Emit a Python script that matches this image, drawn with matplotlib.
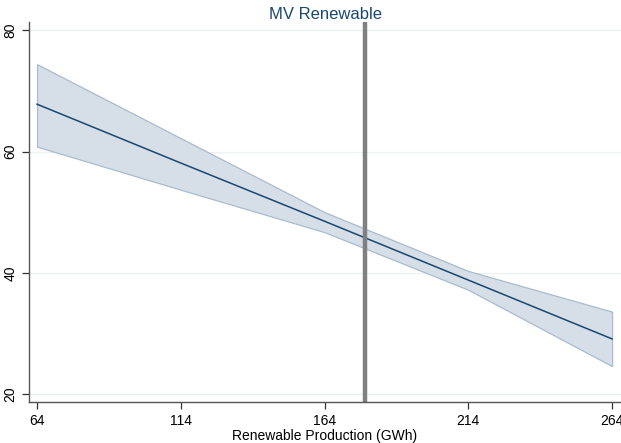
import numpy as np
import matplotlib.pyplot as plt

plt.rcParams['font.family'] = ['Liberation Sans', 'DejaVu Sans']

# predicted margins over renewable production
prod = [64, 114, 164, 214, 264]
margin = [67.8, 58.1, 48.5, 38.8, 29.1]
ci_low = [60.8, 53.7, 46.7, 37.2, 24.6]
ci_high = [74.4, 62.2, 50.0, 40.3, 33.6]
mean_prod = 178.1

navy = '#1a476f'

fig = plt.figure(figsize=(6.21, 4.43), dpi=100)
ax = fig.add_axes([0.0467, 0.0926, 0.9533, 0.857])

ax.fill_between(prod, ci_low, ci_high, facecolor='#d6dee8', edgecolor='#a9bccd', linewidth=0.9)
ax.plot(prod, margin, color=navy, linewidth=1.1)
ax.axvline(mean_prod, color='#808080', linewidth=3.2)

ax.set_xlim(61.2, 267.1)
ax.set_ylim(18.7, 81.3)
ax.set_xticks(prod)
ax.set_yticks([20, 40, 60, 80])
for t in [20, 40, 60, 80]:
    ax.axhline(t, color='#eaf2f3', linewidth=0.9, zorder=0)

ax.tick_params(axis='both', direction='out', length=5, width=0.9, color='#333333', labelsize=10)
ax.tick_params(axis='y', labelrotation=90)
for lab in ax.get_yticklabels():
    lab.set_va('center')

for s in ['top', 'right']:
    ax.spines[s].set_visible(False)
for s in ['left', 'bottom']:
    ax.spines[s].set_color('#555555')
    ax.spines[s].set_linewidth(1.0)

ax.set_title('MV Renewable', color=navy, fontsize=12, pad=2)
ax.set_xlabel('Renewable Production (GWh)', fontsize=10, labelpad=1)

fig.savefig('out.png', dpi=100)
